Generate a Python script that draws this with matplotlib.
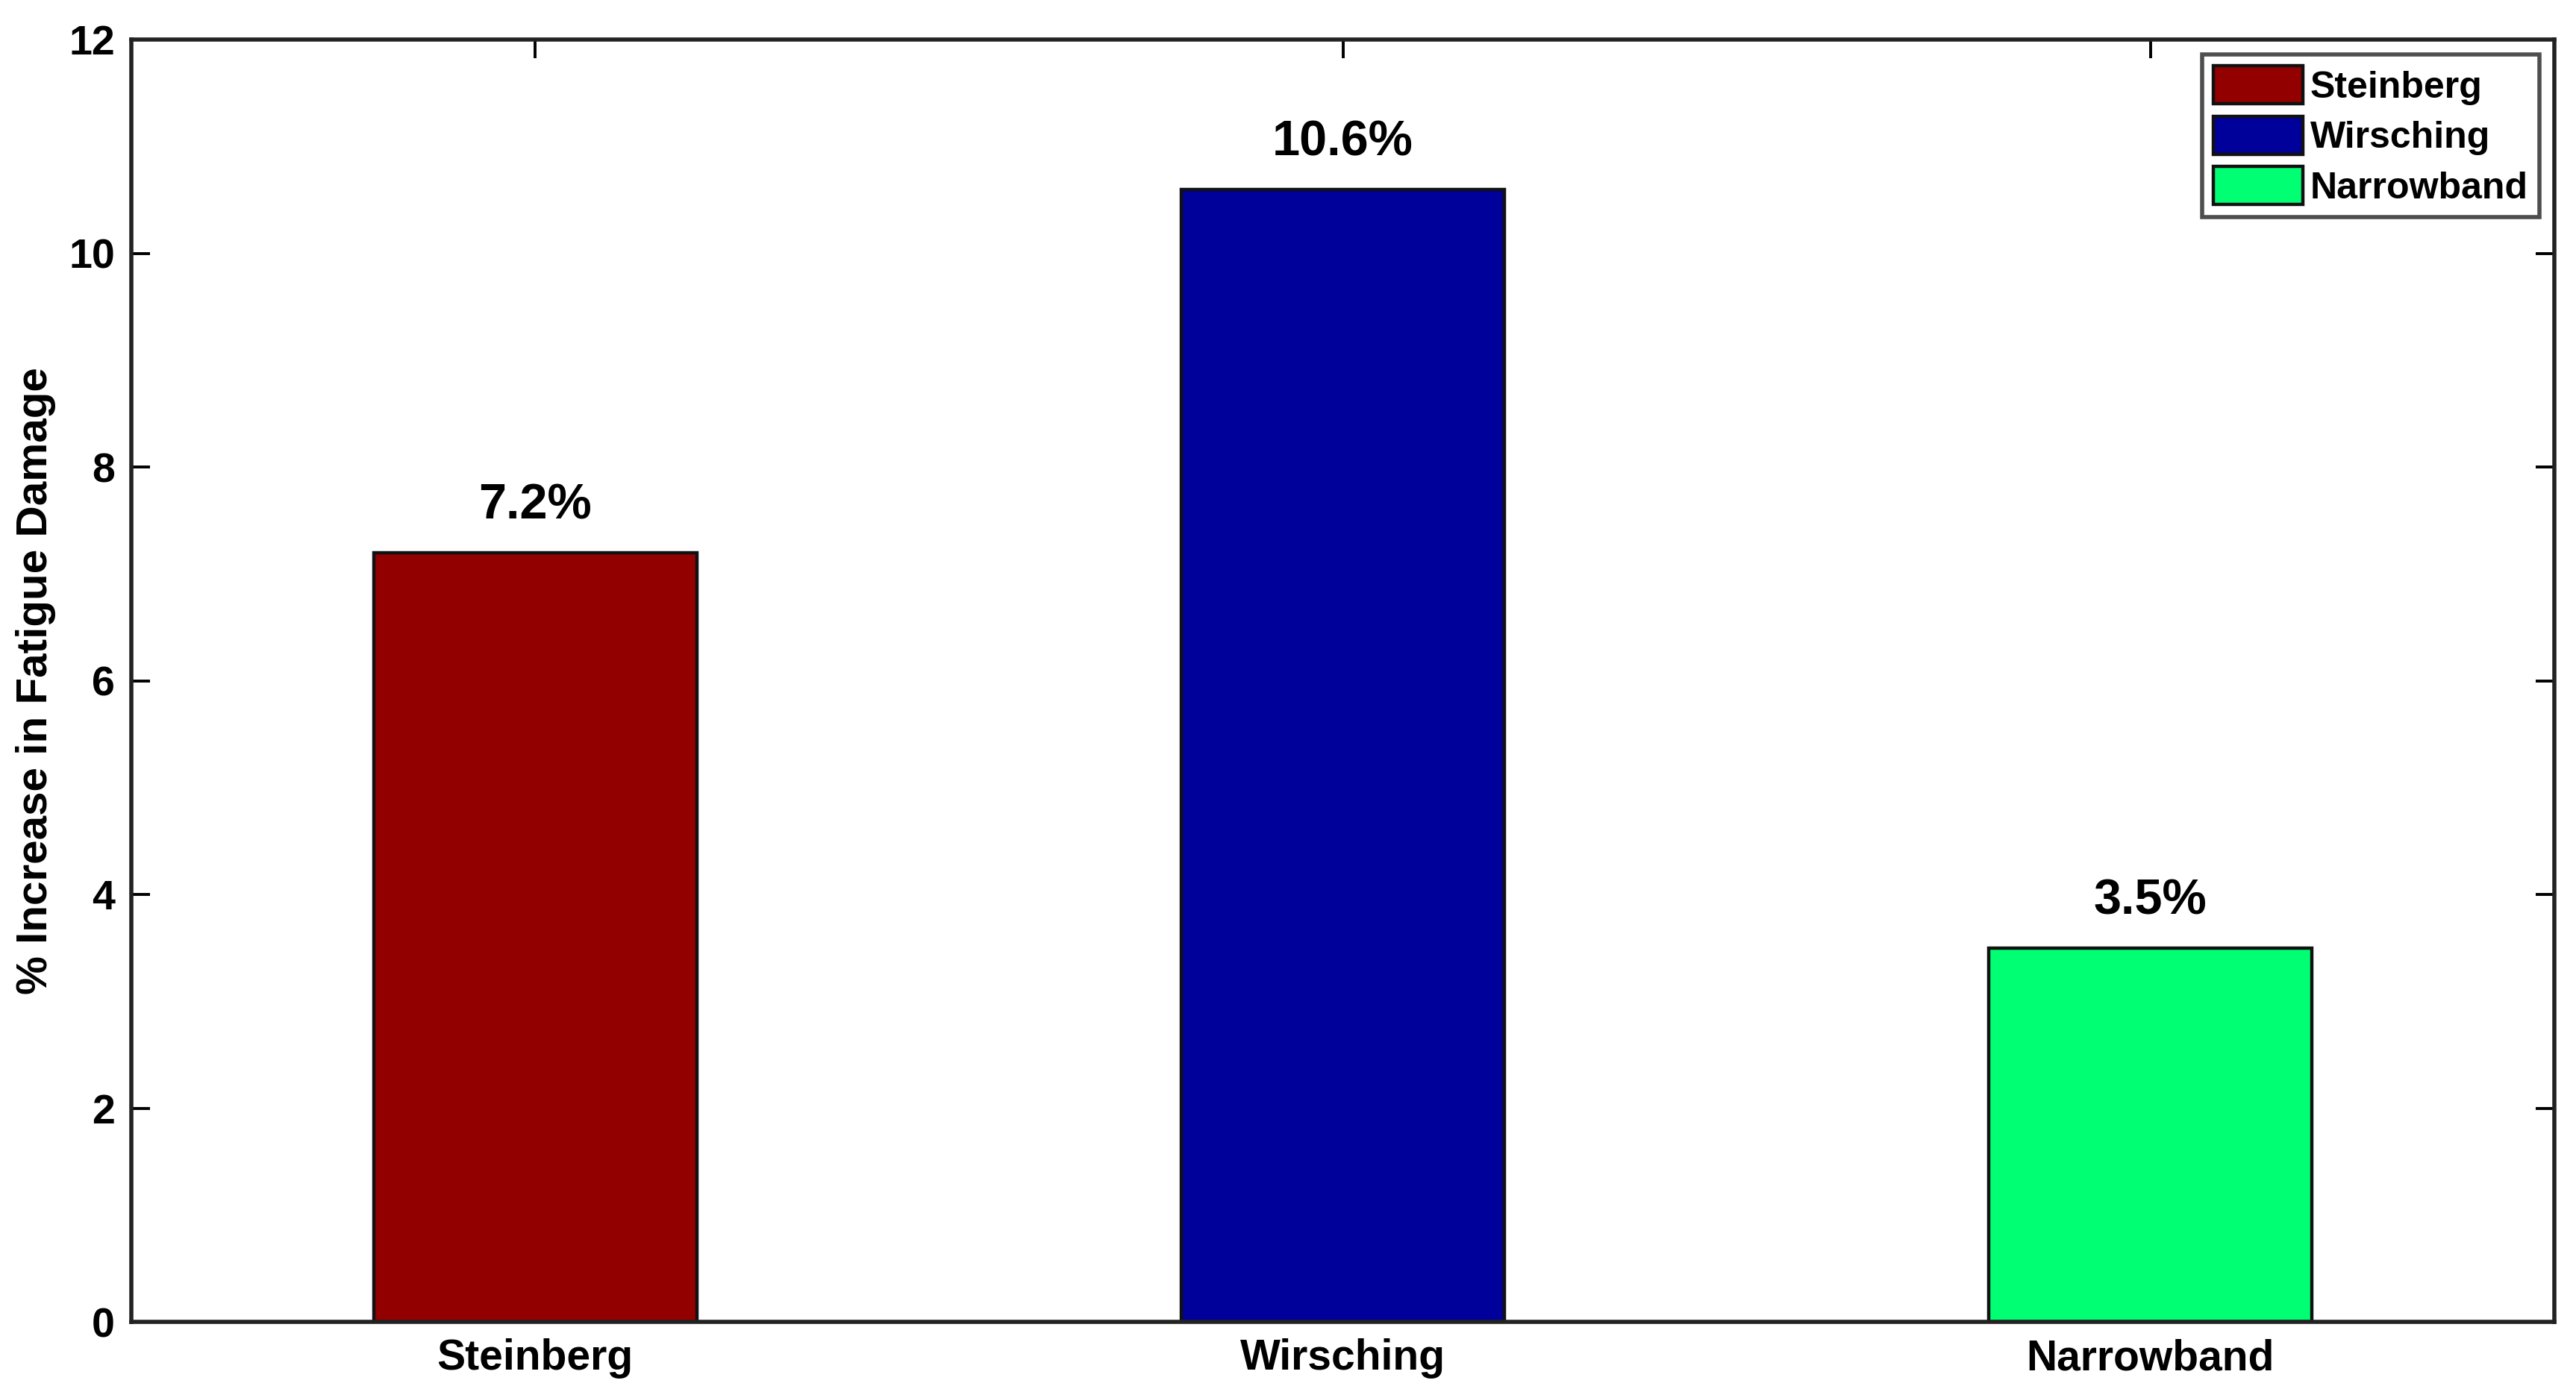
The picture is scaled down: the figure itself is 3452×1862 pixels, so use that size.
import numpy as np
import matplotlib
matplotlib.use('Agg')
import matplotlib.pyplot as plt

# data
methods = ['Steinberg', 'Wirsching', 'Narrowband']
increase = [7.2, 10.6, 3.5]
bar_colors = ['#930000', '#00009B', '#00FF73']
yticks = [0, 2, 4, 6, 8, 10, 12]

plt.rcParams['font.family'] = ['Liberation Sans', 'DejaVu Sans']
plt.rcParams['font.weight'] = 'bold'

fig = plt.figure(figsize=(17.26, 9.31), dpi=200)
ax = fig.add_axes([0.051, 0.0483, 0.9406, 0.9232])

x = np.arange(1, len(methods) + 1)
bars = ax.bar(x, increase, width=0.4, color=bar_colors, edgecolor='#111111',
              linewidth=1.6, label=methods, zorder=2)

for xi, v in zip(x, increase):
    ax.text(xi, v + 0.22, str(v) + '%', ha='center', va='bottom',
            fontsize=24, fontweight='bold')

ax.set_xlim(0.5, 3.5)
ax.set_ylim(0, 12)
ax.set_xticks(x)
ax.set_xticklabels(methods, fontsize=20.5, fontweight='bold')
ax.set_yticks(yticks)
ax.set_yticklabels([str(t) for t in yticks], fontsize=20, fontweight='bold')
ax.set_ylabel('% Increase in Fatigue Damage', fontsize=21, fontweight='bold', labelpad=6)

ax.tick_params(direction='in', length=9, width=1.4, top=True, right=True, pad=8)
for sp in ax.spines.values():
    sp.set_linewidth(2.0)
    sp.set_color('#222222')

leg = ax.legend(bars, methods, loc='upper right', frameon=True,
                fancybox=False, edgecolor='#222222', handlelength=2.4,
                handleheight=1.2, handletextpad=0.2, labelspacing=0.3,
                borderpad=0.3, borderaxespad=0.4, prop={'weight': 'bold', 'size': 18})
leg.get_frame().set_linewidth(2.0)

fig.savefig('out.png', dpi=200)
